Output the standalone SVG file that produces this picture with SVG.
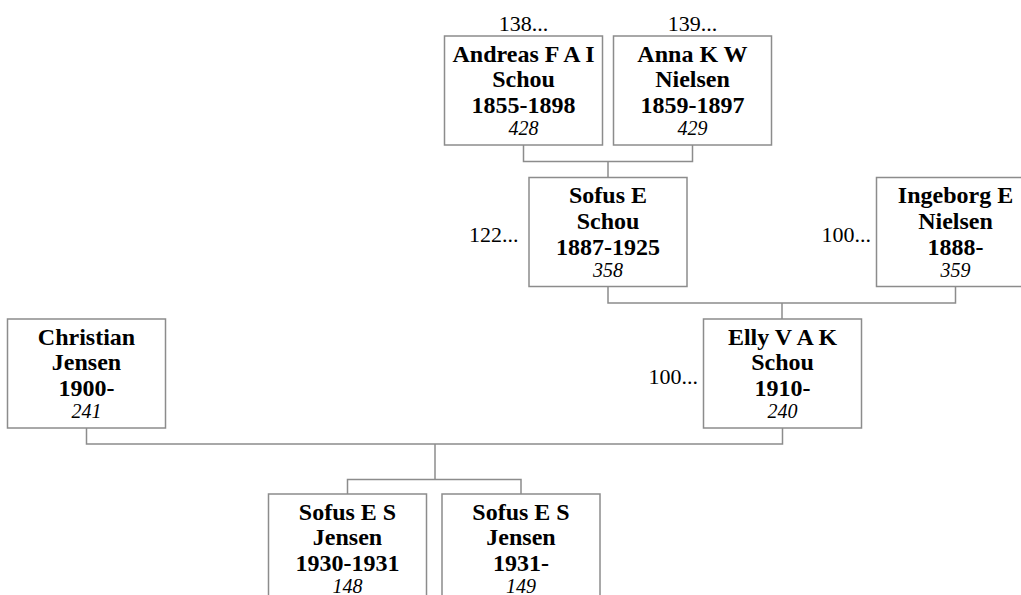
<svg xmlns="http://www.w3.org/2000/svg" width="1021" height="595" viewBox="0 0 1021 595">
<style>
.box{fill:#fff;stroke:#8c8c8c;stroke-width:1.5}
.ln{fill:none;stroke:#8c8c8c;stroke-width:1.5}
.n{font-family:"Liberation Serif","Times New Roman",serif;font-weight:bold;font-size:24px;text-anchor:middle;fill:#000}
.i{font-family:"Liberation Serif","Times New Roman",serif;font-style:italic;font-size:20px;text-anchor:middle;fill:#000}
.r{font-family:"Liberation Serif","Times New Roman",serif;font-size:22px;fill:#000}
</style>
<rect width="1021" height="595" fill="#fff"/>
<g id="connectors">
<polyline class="ln" points="523.5,145 523.5,161.5 692.5,161.5 692.5,145"/>
<line class="ln" x1="608" y1="161.5" x2="608" y2="177.5"/>
<polyline class="ln" points="608,286.5 608,303 955.5,303 955.5,286.5"/>
<line class="ln" x1="782" y1="303" x2="782" y2="319"/>
<polyline class="ln" points="86.5,428 86.5,444 782.5,444 782.5,428"/>
<line class="ln" x1="435" y1="444" x2="435" y2="479.5"/>
<polyline class="ln" points="347.5,494 347.5,479.5 521,479.5 521,494"/>
</g>
<g id="andreas">
<text class="r" x="523.5" y="31" text-anchor="middle">138...</text>
<rect class="box" x="444.5" y="36" width="158" height="109"/>
<text class="n" x="523.5" y="61.5">Andreas F A I</text>
<text class="n" x="523.5" y="87">Schou</text>
<text class="n" x="523.5" y="113">1855-1898</text>
<text class="i" x="523.5" y="135">428</text>
</g>
<g id="anna">
<text class="r" x="692.5" y="31" text-anchor="middle">139...</text>
<rect class="box" x="613.5" y="36" width="158" height="109"/>
<text class="n" x="692.5" y="61.5">Anna K W</text>
<text class="n" x="692.5" y="87">Nielsen</text>
<text class="n" x="692.5" y="113">1859-1897</text>
<text class="i" x="692.5" y="135">429</text>
</g>
<g id="sofus-e">
<text class="r" x="518.5" y="242" text-anchor="end">122...</text>
<rect class="box" x="529" y="177.5" width="158" height="109"/>
<text class="n" x="608" y="203">Sofus E</text>
<text class="n" x="608" y="229">Schou</text>
<text class="n" x="608" y="255">1887-1925</text>
<text class="i" x="608" y="277">358</text>
</g>
<g id="ingeborg">
<text class="r" x="871" y="242" text-anchor="end">100...</text>
<rect class="box" x="876.5" y="177.5" width="158" height="109"/>
<text class="n" x="955.5" y="203">Ingeborg E</text>
<text class="n" x="955.5" y="229">Nielsen</text>
<text class="n" x="955.5" y="255">1888-</text>
<text class="i" x="955.5" y="277">359</text>
</g>
<g id="christian">
<rect class="box" x="7.5" y="319" width="158" height="109"/>
<text class="n" x="86.5" y="344.5">Christian</text>
<text class="n" x="86.5" y="370">Jensen</text>
<text class="n" x="86.5" y="396">1900-</text>
<text class="i" x="86.5" y="418">241</text>
</g>
<g id="elly">
<text class="r" x="698" y="384" text-anchor="end">100...</text>
<rect class="box" x="703.5" y="319" width="158" height="109"/>
<text class="n" x="782.5" y="344.5">Elly V A K</text>
<text class="n" x="782.5" y="370">Schou</text>
<text class="n" x="782.5" y="396">1910-</text>
<text class="i" x="782.5" y="418">240</text>
</g>
<g id="child1">
<rect class="box" x="268.5" y="494" width="158" height="109"/>
<text class="n" x="347.5" y="519.5">Sofus E S</text>
<text class="n" x="347.5" y="545">Jensen</text>
<text class="n" x="347.5" y="571">1930-1931</text>
<text class="i" x="347.5" y="593">148</text>
</g>
<g id="child2">
<rect class="box" x="442" y="494" width="158" height="109"/>
<text class="n" x="521" y="519.5">Sofus E S</text>
<text class="n" x="521" y="545">Jensen</text>
<text class="n" x="521" y="571">1931-</text>
<text class="i" x="521" y="593">149</text>
</g>
</svg>
